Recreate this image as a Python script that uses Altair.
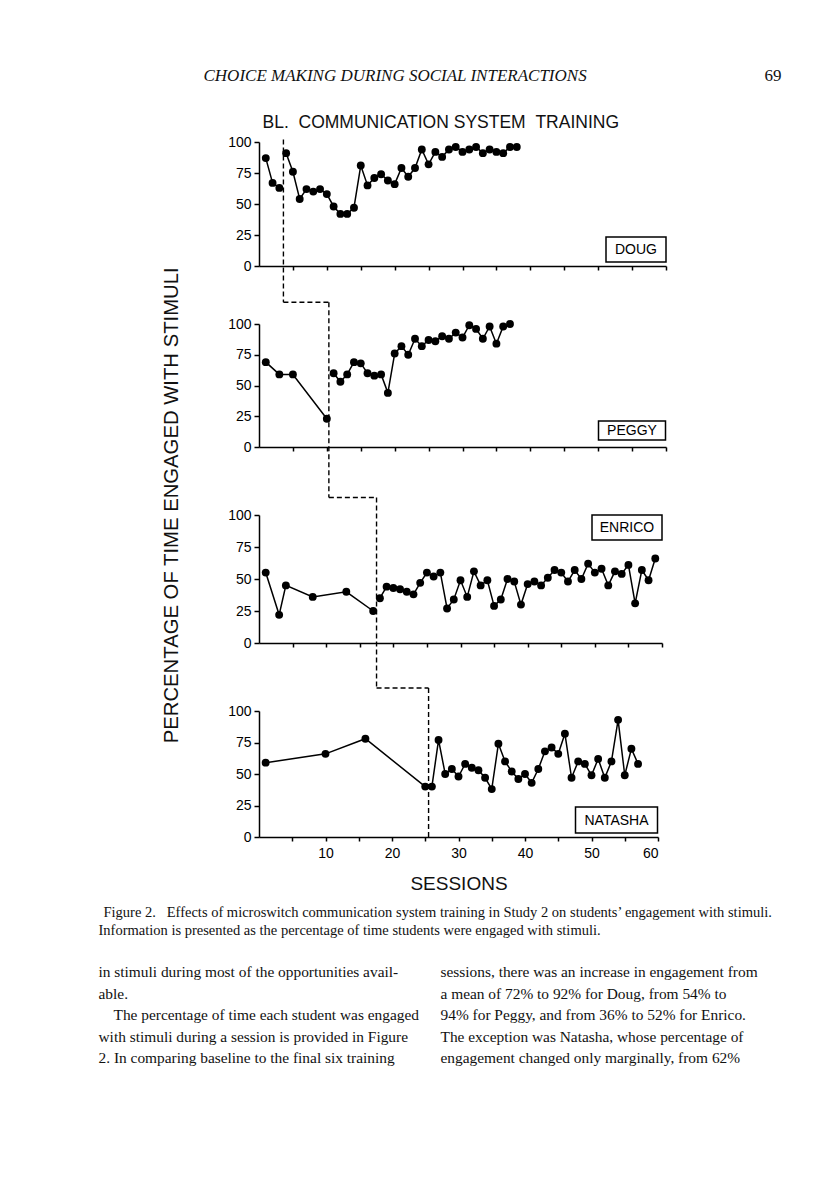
import altair as alt
import pandas as pd

# ---------------- data ----------------
panel_names = ["DOUG", "PEGGY", "ENRICO", "NATASHA"]

doug_bl_sessions = [1, 2, 3]
doug_bl_values = [87, 67, 63]
doug_tr_sessions = list(range(4, 39))
doug_tr_values = [91, 76, 54, 62, 60, 62, 58, 48, 42, 42,
                  47, 81, 65, 71, 74, 69, 66, 79, 72, 79,
                  94, 82, 92, 88, 94, 96, 92, 94, 96, 91,
                  94, 92, 91, 96, 96]

peggy_bl_sessions = [1, 3, 5, 10]
peggy_bl_values = [69, 59, 59, 23]
peggy_tr_sessions = list(range(11, 38))
peggy_tr_values = [60, 53, 59, 69, 68, 60, 58, 59, 44, 76,
                   82, 75, 88, 82, 87, 86, 90, 88, 93, 89,
                   99, 96, 88, 98, 84, 98, 100]

enrico_bl_sessions = [1, 3, 4, 8, 13, 17]
enrico_bl_values = [55, 22, 45, 36, 40, 25]
enrico_tr_sessions = list(range(18, 60))
enrico_tr_values = [35, 44, 43, 42, 40, 38, 47, 55, 52, 55,
                    27, 34, 49, 36, 56, 45, 49, 29, 34, 50,
                    48, 30, 46, 48, 45, 51, 57, 55, 48, 57,
                    50, 62, 55, 58, 45, 56, 54, 61, 31, 57,
                    49, 66]

natasha_bl_sessions = [1, 10, 16, 25]
natasha_bl_values = [59, 66, 78, 40]
natasha_tr_sessions = list(range(26, 58))
natasha_tr_values = [40, 77, 50, 54, 48, 58, 55, 53, 47, 38,
                     74, 60, 52, 46, 50, 43, 54, 68, 71, 66,
                     82, 47, 60, 58, 49, 62, 47, 60, 93, 49,
                     70, 58]

phase_change = [3.6, 10.3, 17.5, 25.5]

y_ticks = [0, 25, 50, 75, 100]
x_ticks = list(range(5, 61, 5))

NB = "\u00a0"
header_text = "CHOICE MAKING DURING SOCIAL INTERACTIONS"
page_number = "69"
figure_title = "BL." + NB + NB + "COMMUNICATION SYSTEM" + NB + NB + "TRAINING"
y_title = "PERCENTAGE OF TIME ENGAGED WITH STIMULI"
x_title = "SESSIONS"
caption_line1 = ("Figure 2." + NB + NB + NB + "Effects of microswitch communication system training "
                 "in Study 2 on students\u2019 engagement with stimuli.")
caption_line2 = "Information is presented as the percentage of time students were engaged with stimuli."
body_left = [
    "in stimuli during most of the opportunities avail-",
    "able.",
    "The percentage of time each student was engaged",
    "with stimuli during a session is provided in Figure",
    "2. In comparing baseline to the final six training",
]
body_right = [
    "sessions, there was an increase in engagement from",
    "a mean of 72% to 92% for Doug, from 54% to",
    "94% for Peggy, and from 36% to 52% for Enrico.",
    "The exception was Natasha, whose percentage of",
    "engagement changed only marginally, from 62%",
]

series = [
    (doug_bl_sessions, doug_bl_values, doug_tr_sessions, doug_tr_values),
    (peggy_bl_sessions, peggy_bl_values, peggy_tr_sessions, peggy_tr_values),
    (enrico_bl_sessions, enrico_bl_values, enrico_tr_sessions, enrico_tr_values),
    (natasha_bl_sessions, natasha_bl_values, natasha_tr_sessions, natasha_tr_values),
]

# ---------------- layout (pixels) ----------------
widths = [407, 407, 403, 399]
heights = [124, 123, 128, 126]
gap_first = 58
gap_rest = 68
dash_bottom = [160.3, 173.5, 173.0, None]
# name boxes: x1, x2, y1, y2 relative to panel plot area
boxes = [(347, 407, 95, 120), (339.5, 406.5, 97, 116), (333, 403, 0, 25), (316.5, 398.5, 96, 122)]
body_left_indent = [0, 0, 15, 0, 0]
body_first_baseline = 977
body_line_height = 21.5
body_size = 15.4

SANS = "Liberation Sans"
SERIF = "Liberation Serif"


def dash_tops():
    tops = [-2.4]
    gaps = [gap_first, gap_rest, gap_rest]
    for i in range(3):
        tops.append(dash_bottom[i] - heights[i] - gaps[i])
    return tops


tops = dash_tops()


def text_layer(txt, x, y, size, font=SANS, align="left", baseline="alphabetic",
               angle=0, style="normal", line_height=None, color="#111"):
    kw = dict(text=txt, font=font, fontSize=size, align=align, baseline=baseline,
              fontStyle=style, color=color)
    if angle:
        kw["angle"] = angle
    if line_height:
        kw["lineHeight"] = line_height
    return alt.Chart(pd.DataFrame({"a": [0]})).mark_text(**kw).encode(
        x=alt.value(x), y=alt.value(y))


def panel(i):
    bs, bv, ts, tv = series[i]
    df = pd.DataFrame({
        "session": bs + ts,
        "value": bv + tv,
        "phase": ["baseline"] * len(bs) + ["training"] * len(ts),
    })
    last = i == 3
    if last:
        x_axis = alt.Axis(values=x_ticks, title=x_title, tickSize=4,
                          labelExpr="datum.value % 10 === 0 ? datum.label : ''",
                          labelPadding=5, titleFontSize=19, titleFontWeight="normal",
                          titleFont=SANS, titlePadding=14, titleColor="#111")
    else:
        x_axis = alt.Axis(values=x_ticks, title=None, labels=False, tickSize=4)
    y_axis = alt.Axis(values=y_ticks, title=None, tickSize=5, labelPadding=3)
    x_enc = alt.X("session:Q", scale=alt.Scale(domain=[0, 60], nice=False, zero=False), axis=x_axis)
    y_enc = alt.Y("value:Q", scale=alt.Scale(domain=[0, 100], nice=False), axis=y_axis)

    lines = alt.Chart(df).mark_line(color="black", strokeWidth=1.5, clip=False).encode(
        x=x_enc, y=y_enc, detail="phase:N")
    dots = alt.Chart(df).mark_circle(color="black", opacity=1, size=62, clip=False).encode(
        x=x_enc, y=y_enc)
    vline = alt.Chart(pd.DataFrame({"session": [phase_change[i]]})).mark_rule(
        color="black", strokeWidth=1.4, strokeDash=[5, 3], clip=False).encode(
        x=x_enc,
        y=alt.value(tops[i]),
        y2=alt.value(dash_bottom[i] if not last else heights[i]))
    layers = [lines, dots, vline]
    if not last:
        nxt = phase_change[i + 1] * widths[i + 1] / widths[i]
        hline = alt.Chart(pd.DataFrame({"session": [phase_change[i]], "end": [nxt]})).mark_rule(
            color="black", strokeWidth=1.4, strokeDash=[5, 3], clip=False).encode(
            x=x_enc, x2="end:Q", y=alt.value(dash_bottom[i]))
        layers.append(hline)
    bx1, bx2, by1, by2 = boxes[i]
    box = alt.Chart(pd.DataFrame({"a": [0]})).mark_rect(
        fill="white", stroke="black", strokeWidth=1.5).encode(
        x=alt.value(bx1), x2=alt.value(bx2), y=alt.value(by1), y2=alt.value(by2))
    label = text_layer(panel_names[i], (bx1 + bx2) / 2, (by1 + by2) / 2 + 0.5, 14,
                       align="center", baseline="middle", color="black")
    layers += [box, label]

    if i == 0:
        ox, oy = 258.5, 141.7
        anchor = alt.Chart(pd.DataFrame({"a": [0]})).mark_rect(opacity=0).encode(
            x=alt.value(8 - ox), x2=alt.value(9 - ox), y=alt.value(8 - oy), y2=alt.value(9 - oy))
        layers += [
            anchor,
            text_layer(header_text, 203 - ox, 81 - oy, 17, font=SERIF, style="italic"),
            text_layer(page_number, 781 - ox, 81 - oy, 17, font=SERIF, align="right"),
            text_layer(figure_title, 262 - ox, 128 - oy, 17.5),
            text_layer(y_title, 171 - ox, 505 - oy, 20.3, align="center", baseline="middle", angle=270),
        ]
    if last:
        ox, oy = 258.5, 710.7
        layers += [
            text_layer(caption_line1, 103 - ox, 917 - oy, 14.5, font=SERIF),
            text_layer(caption_line2, 98 - ox, 935 - oy, 14.5, font=SERIF),
        ]
        for k, line in enumerate(body_left):
            layers.append(text_layer(line, 98 + body_left_indent[k] - ox,
                                     body_first_baseline + k * body_line_height - oy,
                                     body_size, font=SERIF))
        for k, line in enumerate(body_right):
            layers.append(text_layer(line, 440 - ox,
                                     body_first_baseline + k * body_line_height - oy,
                                     body_size, font=SERIF))
    return alt.layer(*layers).properties(width=widths[i], height=heights[i])


inner = alt.vconcat(panel(1), panel(2), panel(3), spacing=gap_rest, bounds="flush")
chart = alt.vconcat(panel(0), inner, spacing=gap_first, bounds="flush").properties(
    padding=0
).configure_view(stroke=None).configure_axis(
    grid=False, domainColor="black", domainWidth=1.5, tickColor="black", tickWidth=1.5,
    labelColor="black", labelFont=SANS, labelFontSize=14,
)

chart.save("out.html", embed_options={"renderer": "svg", "actions": False})
